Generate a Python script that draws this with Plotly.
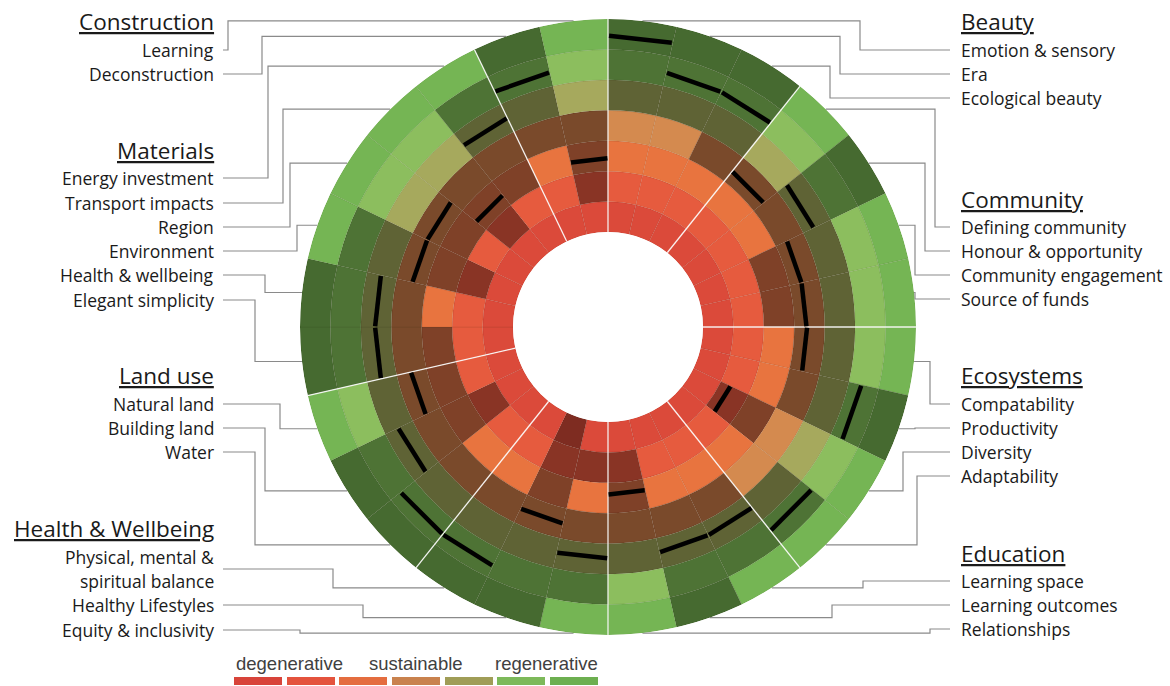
import math
import plotly.graph_objects as go

# ---------------- data ----------------
categories = ["Beauty", "Community", "Ecosystems", "Education",
              "Health & Wellbeing", "Land use", "Materials", "Construction"]
category_sizes = [3, 4, 4, 3, 3, 3, 6, 2]

# indicators clockwise from 12 o'clock
indicators = ["Emotion & sensory", "Era", "Ecological beauty",
              "Defining community", "Honour & opportunity", "Community engagement", "Source of funds",
              "Compatability", "Productivity", "Diversity", "Adaptability",
              "Learning space", "Learning outcomes", "Relationships",
              "Equity & inclusivity", "Healthy Lifestyles", "Physical, mental &|spiritual balance",
              "Water", "Building land", "Natural land",
              "Elegant simplicity", "Health & wellbeing", "Environment", "Region",
              "Transport impacts", "Energy investment",
              "Deconstruction", "Learning"]

# assessed score for each indicator (0 = degenerative ... 7 = regenerative)
scores = [6.45, 5.45, 5.45, 3.42, 4.38, 3.40, 3.40,
          3.42, 5.42, 1.35, 5.44,
          4.47, 4.47, 2.38,
          4.48, 3.50, 5.59,
          5.59, 4.53, 3.52,
          4.53, 4.53, 3.47, 3.47, 2.42, 4.50,
          5.46, 2.42]

# shade of each of the 7 rings (inner -> outer): B = light, D = dark
ring_shades = ["BBBBDDD", "BBBBDDD", "BBBDDDD",
               "BBBDBBB", "BBBDDDD", "BBDDDBB", "BBDDDBB",
               "BBBDDBB", "BBBDDDD", "BDDBBBB", "BBBBDDB",
               "BBBDDDB", "BBBDDDD", "BDDDDBB",
               "BDBDDDB", "DDDDDDD", "BBBDDDD",
               "BBBDDDD", "BDDDDDD", "BBDDDBB",
               "BBDDDDD", "BBBDDDD", "BDDDDDB", "BBDDBBB", "BDDDBBB", "BBDDDDB",
               "BBBDDDD", "BDDDBBB"]

legend_labels = ["degenerative", "sustainable", "regenerative"]

# ---------------- styles ----------------
LIGHT = ["#DB4A3A", "#E65B3E", "#E8743F", "#D48A4F", "#A6A95D", "#8CBE5E", "#75B554"]
DARK = ["#7E2C21", "#893425", "#7F4128", "#7A4A2B", "#5F6335", "#4E7335", "#466A30"]
LEGEND_COLORS = ["#D8443A", "#E4533D", "#E46D3F", "#C9824E", "#A09D57", "#7DB95A", "#6DAF50"]

W, H = 1170, 686
CX, CY, R_OUT, R_IN = 608, 327, 308, 95
NRING = 7
n = len(indicators)
step = 360.0 / n
mids = [(i + 0.5) * step for i in range(n)]


def px(x):
    return x / W


def py(y):
    return 1 - y / H


fig = go.Figure()

for ring in range(NRING):
    cols = [(LIGHT if ring_shades[i][ring] == "B" else DARK)[ring] for i in range(n)]
    fig.add_trace(go.Barpolar(
        r=[1] * n, base=[ring] * n, theta=mids, width=[step] * n,
        marker=dict(color=cols, line=dict(color="rgba(40,30,20,0.12)", width=0.6)),
        hoverinfo="skip", showlegend=False))

# white separators between categories
bounds = [0]
for s in category_sizes:
    bounds.append(bounds[-1] + s)
for b in bounds[:-1]:
    a = b * step
    fig.add_trace(go.Scatterpolar(r=[0, NRING], theta=[a, a], mode="lines",
                                  line=dict(color="rgba(255,255,255,0.9)", width=1.3),
                                  hoverinfo="skip", showlegend=False))

# score marks
rr, tt = [], []
for i, s in enumerate(scores):
    rr += [s, s, None]
    tt += [i * step + 0.2, (i + 1) * step - 0.2, None]
fig.add_trace(go.Scatterpolar(r=rr, theta=tt, mode="lines",
                              line=dict(color="black", width=4.5),
                              hoverinfo="skip", showlegend=False, connectgaps=False))

fig.update_layout(
    width=W, height=H, margin=dict(l=0, r=0, t=0, b=0),
    paper_bgcolor="white", plot_bgcolor="white",
    polar=dict(
        domain=dict(x=[px(CX - R_OUT), px(CX + R_OUT)], y=[py(CY + R_OUT), py(CY - R_OUT)]),
        hole=R_IN / R_OUT,
        bgcolor="rgba(0,0,0,0)",
        radialaxis=dict(range=[0, NRING], visible=False),
        angularaxis=dict(rotation=90, direction="clockwise", showticklabels=False,
                         showgrid=False, showline=False, ticks=""),
        bargap=0,
    ),
    showlegend=False,
)

# ---------------- labels & leader lines ----------------
FONT = "Open Sans"
TXT = "#1a1a1a"
LINE = "#8a8a8a"

# label y (px) for each indicator and elbow x (px)
label_y = [50, 74, 98,
           227, 251, 275, 299,
           404, 428, 452, 476,
           581, 605, 629,
           630, 605, 569,
           452, 428, 404,
           300, 275, 251, 227, 203, 178,
           74, 50]
elbow_x = [860, 840, 830,
           935, 925, 915, 915,
           930, 915, 903, 917,
           863, 832, 930,
           300, 363, 333,
           255, 265, 280,
           255, 265, 297, 290, 283, 268,
           262, 228]

shapes = []
annotations = []
for i in range(n):
    th = math.radians(mids[i])
    ex = CX + R_OUT * math.sin(th)
    ey = CY - R_OUT * math.cos(th)
    right = mids[i] < 180
    lx = 950 if right else 223
    ly = label_y[i]
    xe = elbow_x[i]
    path = f"M {px(lx)} {py(ly)} L {px(xe)} {py(ly)} L {px(xe)} {py(ey)} L {px(ex)} {py(ey)}"
    shapes.append(dict(type="path", path=path, xref="paper", yref="paper",
                       line=dict(color=LINE, width=1.2), layer="below"))
    parts = indicators[i].split("|")
    if len(parts) == 1:
        ys = [ly]
    else:
        ys = [ly - 12, ly + 12]
    for part, yy in zip(parts, ys):
        annotations.append(dict(text=part, x=px(959 if right else 216), y=py(yy),
                                xref="paper", yref="paper",
                                xanchor="left" if right else "right", yanchor="middle",
                                showarrow=False, font=dict(family=FONT, size=17.5, color=TXT)))

header_pos = {"Beauty": (959, 22, "left"), "Community": (959, 199, "left"),
              "Ecosystems": (959, 376, "left"), "Education": (959, 553, "left"),
              "Construction": (216, 22, "right"), "Materials": (216, 150, "right"),
              "Land use": (216, 376, "right"), "Health & Wellbeing": (216, 528, "right")}
for c in categories:
    x, y, anc = header_pos[c]
    annotations.append(dict(text=f"<u>{c}</u>", x=px(x), y=py(y), xref="paper", yref="paper",
                            xanchor=anc, yanchor="middle", showarrow=False,
                            font=dict(family=FONT, size=22.5, color=TXT)))

# colour key
key_x = [234, 287, 339, 392, 445, 497, 550]
for x0, col in zip(key_x, LEGEND_COLORS):
    shapes.append(dict(type="rect", xref="paper", yref="paper",
                       x0=px(x0), x1=px(x0 + 48), y0=py(685), y1=py(677),
                       fillcolor=col, line=dict(width=0)))
for txt, xc in zip(legend_labels, [289, 416, 546]):
    annotations.append(dict(text=txt, x=px(xc), y=py(663), xref="paper", yref="paper",
                            xanchor="center", yanchor="middle", showarrow=False,
                            font=dict(family="Liberation Sans", size=18.5, color="#404040")))

fig.update_layout(shapes=shapes, annotations=annotations)
fig.write_html("out.html", config={"displayModeBar": False},
               post_script="document.body.style.margin='0';document.body.style.overflow='hidden';")
